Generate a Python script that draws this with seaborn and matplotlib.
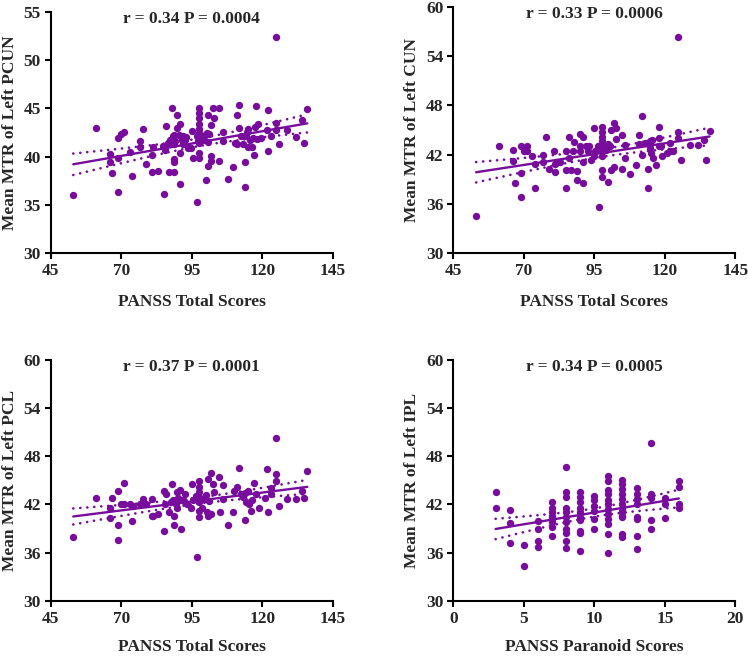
import numpy as np
import matplotlib
matplotlib.use("Agg")
import matplotlib.pyplot as plt
import seaborn as sns

sns.set_style("ticks")
plt.rcParams['font.family'] = ['Liberation Serif', 'DejaVu Serif']
plt.rcParams['font.weight'] = 'bold'

PURPLE = '#780c9c'

# panel A: PANSS total vs left PCUN
pcun_x = [53.0, 61.0, 66.0, 66.0, 66.9, 68.9, 68.9, 68.9, 69.9, 71.0, 73.1, 74.0, 76.7, 76.7, 77.9,
          78.8, 80.8, 80.8, 81.2, 82.9, 85.0, 85.5, 85.5, 85.9, 87.9, 87.1, 88.7, 88.7, 88.7, 88.7,
          88.7, 89.9, 89.9, 90.9, 90.9, 90.9, 91.5, 91.8, 92.6, 94.6, 95.0, 95.6, 96.8, 97.7, 97.7,
          97.7, 97.7, 97.7, 97.7, 97.7, 97.7, 97.7, 97.7, 98.5, 99.4, 100.1, 100.3, 100.9, 100.9, 101.7,
          101.7, 101.7, 102.7, 102.9, 104.8, 104.8, 106.0, 106.0, 108.0, 109.8, 110.4, 111.0, 111.2, 111.9, 111.9,
          112.4, 113.3, 113.9, 113.9, 115.1, 115.1, 116.3, 117.1, 117.5, 117.8, 118.1, 118.6, 119.5, 121.6, 122.0,
          122.2, 123.0, 124.9, 124.9, 124.9, 125.9, 128.9, 132.0, 134.0, 134.8, 136.0,
          87.3, 88.2, 89.2, 90.6, 91.9, 93.0, 93.6, 86.7, 84.9, 96.8, 97.4, 99.8, 100.6, 101.3,
          114.3, 115.5, 116.7, 114.6]
pcun_y = [36.0, 43.0, 40.3, 39.4, 38.3, 36.3, 39.9, 41.9, 42.3, 42.5, 40.5, 38.0, 41.6, 41.0, 42.9,
          39.2, 38.4, 40.2, 41.0, 38.5, 36.1, 41.1, 40.7, 43.2, 45.0, 38.4, 38.4, 39.8, 39.4, 41.3,
          42.2, 44.3, 43.0, 43.4, 40.4, 37.2, 41.7, 42.1, 41.7, 40.9, 42.7, 39.9, 35.3, 45.0, 44.5,
          44.0, 43.4, 42.9, 42.4, 41.9, 41.4, 40.4, 39.9, 42.1, 41.7, 37.6, 42.4, 44.3, 39.0, 40.1,
          39.5, 43.3, 45.0, 44.0, 45.0, 39.5, 42.5, 41.6, 37.7, 38.9, 41.4, 44.3, 41.3, 45.3, 43.0,
          42.1, 41.3, 39.4, 36.9, 42.9, 41.0, 41.0, 40.2, 43.1, 45.2, 41.8, 43.4, 41.9, 42.8, 40.6,
          44.8, 42.1, 43.5, 42.8, 52.4, 41.3, 42.8, 42.0, 43.8, 41.4, 44.9,
          41.7, 42.1, 41.6, 42.2, 41.3, 42.0, 40.9, 41.4, 41.1, 42.1, 41.6, 42.2, 41.5, 42.3,
          42.1, 41.7, 41.9, 42.6]

# panel B: PANSS total vs left CUN
cun_x = [53.1, 61.1, 66.0, 66.0, 67.0, 69.0, 69.0, 69.0, 70.0, 71.0, 71.0, 73.0, 73.9, 73.9, 76.9,
         76.9, 77.9, 78.9, 80.7, 80.9, 80.9, 83.0, 84.9, 84.9, 84.9, 86.0, 86.0, 86.9, 87.9, 88.9,
         88.9, 89.9, 89.9, 90.9, 90.9, 90.9, 91.9, 92.8, 93.9, 94.8, 95.1, 96.8, 97.9, 97.9, 97.9,
         97.9, 97.9, 97.9, 97.9, 97.9, 97.9, 99.0, 99.9, 99.9, 101.0, 101.0, 101.9, 101.9, 102.8, 102.8,
         104.9, 104.9, 106.0, 106.0, 107.8, 109.8, 110.8, 111.0, 111.9, 111.9, 112.9, 113.9, 113.9, 114.9, 114.9,
         115.8, 116.9, 117.8, 117.8, 118.1, 118.9, 120.8, 122.0, 122.0, 122.8, 124.8, 124.8, 124.8, 125.8, 128.8,
         131.9, 133.8, 134.7, 135.9,
         87.5, 89.8, 93.3, 95.0, 99.3, 100.5, 96.2, 115.1, 118.7, 115.3]
cun_y = [34.5, 43.1, 42.6, 41.2, 38.5, 36.8, 39.8, 43.1, 42.5, 43.1, 42.4, 41.8, 40.9, 37.9, 42.0,
         41.1, 44.1, 40.3, 42.4, 40.9, 39.9, 41.1, 37.9, 40.1, 42.4, 44.1, 41.6, 40.1, 43.5, 38.9,
         40.0, 44.5, 42.4, 44.2, 41.1, 38.5, 43.0, 42.4, 41.3, 45.2, 42.4, 35.6, 45.4, 44.8, 44.2,
         43.6, 43.0, 42.4, 41.8, 40.1, 39.3, 42.6, 38.7, 43.3, 40.1, 45.0, 45.9, 40.5, 45.2, 43.9,
         44.4, 40.3, 43.2, 41.6, 39.7, 40.7, 43.3, 44.4, 46.7, 42.0, 43.4, 37.9, 40.2, 43.6, 42.8,
         41.6, 40.7, 43.0, 45.4, 44.0, 41.8, 42.2, 43.4, 42.4, 42.4, 44.8, 56.3, 44.0, 41.4, 43.2,
         43.2, 43.8, 41.4, 44.9,
         42.4, 43.0, 43.0, 41.8, 43.0, 43.0, 43.0, 42.2, 43.0, 43.8]

# panel C: PANSS total vs left PCL
pcl_x = [53.0, 61.0, 66.0, 66.0, 66.9, 68.9, 68.9, 68.9, 69.8, 71.0, 71.0, 73.1, 74.0, 74.1, 76.7,
         77.9, 78.8, 80.8, 80.8, 81.4, 82.9, 85.0, 85.0, 85.5, 85.9, 87.1, 87.9, 88.5, 88.7, 88.7,
         89.7, 89.9, 90.9, 91.1, 91.8, 92.6, 94.6, 95.0, 95.6, 96.8, 97.7, 97.7, 97.7, 97.7, 97.7,
         97.7, 97.7, 98.5, 99.4, 100.3, 100.9, 100.9, 101.7, 101.9, 102.7, 102.9, 104.8, 105.0, 106.0, 106.0,
         108.0, 109.8, 110.1, 111.0, 111.9, 112.4, 113.3, 113.9, 114.3, 115.1, 115.9, 116.3, 117.1, 117.8, 119.0,
         121.0, 121.6, 122.0, 123.0, 123.0, 124.9, 124.9, 124.9, 125.9, 128.9, 132.0, 134.0, 134.8, 136.0,
         87.6, 89.3, 90.2, 92.1, 93.4, 96.5, 99.9, 101.2, 113.8, 115.4]
pcl_y = [37.9, 42.8, 41.5, 40.3, 42.8, 43.7, 39.5, 37.6, 42.1, 44.7, 42.1, 42.1, 39.9, 41.8, 42.1,
         42.7, 42.1, 42.7, 40.6, 40.6, 40.8, 38.7, 43.7, 42.1, 43.3, 41.0, 44.6, 42.5, 39.4, 40.6,
         41.6, 43.5, 43.8, 39.0, 42.5, 43.3, 41.6, 44.6, 42.5, 35.4, 44.9, 44.2, 43.5, 42.9, 42.3,
         41.2, 40.4, 41.6, 42.7, 41.0, 45.1, 40.6, 40.8, 45.9, 44.5, 43.5, 45.4, 41.0, 44.4, 42.7,
         39.5, 41.0, 43.7, 44.2, 46.5, 43.3, 42.9, 40.0, 42.3, 43.7, 41.2, 42.5, 44.7, 43.3, 41.6,
         42.8, 46.4, 41.0, 44.1, 43.3, 45.8, 44.9, 50.2, 41.8, 42.7, 42.7, 43.7, 42.8, 46.1,
         42.3, 42.0, 42.8, 42.4, 42.0, 43.1, 43.2, 42.4, 43.4, 42.0]

# panel D: PANSS paranoid vs left IPL
ipl_x = [3, 3, 4, 4, 4, 5, 5, 6, 6, 6, 6,
         7, 7, 7, 7, 7, 7, 7, 7,
         8, 8, 8, 8, 8, 8, 8, 8, 8, 8, 8,
         9, 9, 9, 9, 9, 9, 9, 9, 9, 9,
         10, 10, 10, 10, 10, 10,
         11, 11, 11, 11, 11, 11, 11, 11, 11, 11, 11, 11,
         12, 12, 12, 12, 12, 12, 12, 12, 12, 12, 12, 12,
         13, 13, 13, 13, 13, 13, 13, 13,
         14, 14, 14, 14, 14, 15, 15, 15, 16, 16, 16, 16]
ipl_y = [43.6, 41.6, 41.3, 39.7, 37.2, 37.0, 34.3, 39.9, 39.0, 37.5, 36.7,
         42.3, 41.6, 41.0, 40.6, 40.2, 39.8, 39.2, 38.1,
         46.7, 43.6, 42.9, 41.6, 41.0, 40.4, 39.8, 39.0, 38.5, 37.4, 36.6,
         43.6, 42.9, 42.3, 41.6, 41.0, 40.4, 40.0, 38.7, 38.5, 36.2,
         43.0, 42.5, 41.8, 41.2, 40.2, 38.9,
         45.5, 44.9, 43.8, 43.3, 42.5, 42.1, 41.4, 40.8, 40.2, 39.6, 38.3, 35.9,
         45.0, 44.5, 43.9, 43.3, 42.7, 42.1, 41.4, 41.0, 40.6, 40.4, 38.3, 38.0,
         44.0, 43.3, 42.7, 42.1, 40.4, 40.2, 38.1, 36.4,
         49.6, 43.3, 42.8, 40.0, 39.0, 42.8, 42.1, 40.3, 44.9, 44.2, 42.1, 41.6]

stats_text = ['r = 0.34 P = 0.0004', 'r = 0.33 P = 0.0006', 'r = 0.37 P = 0.0001', 'r = 0.34 P = 0.0005']
y_labels = ['Mean MTR of Left PCUN', 'Mean MTR of Left CUN', 'Mean MTR of Left PCL', 'Mean MTR of Left IPL']
x_labels = ['PANSS Total Scores', 'PANSS Total Scores', 'PANSS Total Scores', 'PANSS Paranoid Scores']
x_ticks = [[45, 70, 95, 120, 145]] * 3 + [[0, 5, 10, 15, 20]]
y_ticks = [[30, 35, 40, 45, 50, 55], [30, 36, 42, 48, 54, 60], [30, 36, 42, 48, 54, 60], [30, 36, 42, 48, 54, 60]]

panels = [(pcun_x, pcun_y), (cun_x, cun_y), (pcl_x, pcl_y), (ipl_x, ipl_y)]
positions = [[0.0678, 0.6139, 0.377, 0.3683], [0.606, 0.6139, 0.377, 0.3759],
             [0.0678, 0.0840, 0.377, 0.3677], [0.606, 0.0840, 0.377, 0.3677]]
label_pads = [11, 11, 9, 9]

fig = plt.figure(figsize=(7.48, 6.56), dpi=100)
for i, (xs, ys) in enumerate(panels):
    ax = fig.add_axes(positions[i])
    x = np.array(xs, dtype=float)
    y = np.array(ys, dtype=float)
    sns.regplot(x=x, y=y, ax=ax, ci=None, color=PURPLE,
                scatter_kws=dict(s=28, alpha=1, linewidths=0),
                line_kws=dict(lw=1.7))
    # 95% confidence band, drawn as dotted lines
    b, a = np.polyfit(x, y, 1)
    n = len(x)
    resid = y - (a + b * x)
    s = np.sqrt(np.sum(resid ** 2) / (n - 2))
    xx = np.linspace(x.min(), x.max(), 100)
    se = s * np.sqrt(1 / n + (xx - x.mean()) ** 2 / np.sum((x - x.mean()) ** 2))
    fit = a + b * xx
    for sign in (-1, 1):
        ax.plot(xx, fit + sign * 1.98 * se, color=PURPLE, lw=1.9, linestyle=(0, (0.05, 2.6)),
                dash_capstyle='round')

    ax.set_xlim(x_ticks[i][0], x_ticks[i][-1])
    ax.set_ylim(y_ticks[i][0], y_ticks[i][-1])
    ax.set_xticks(x_ticks[i])
    ax.set_yticks(y_ticks[i])
    ax.set_xlabel(x_labels[i], fontsize=12.5, fontweight='bold', labelpad=label_pads[i])
    ax.set_ylabel(y_labels[i], fontsize=12.5, fontweight='bold', labelpad=4)
    ax.text(0.5, 0.97, stats_text[i], transform=ax.transAxes, ha='center', va='center',
            fontsize=12.5, fontweight='bold')
    sns.despine(ax=ax)
    for sp in ('left', 'bottom'):
        ax.spines[sp].set_linewidth(1.5)
        ax.spines[sp].set_color('black')
    ax.tick_params(width=1.5, length=4, labelsize=12.5, color='black', pad=3)
    for lab in ax.get_xticklabels() + ax.get_yticklabels():
        lab.set_fontweight('bold')
    ax.set_facecolor('white')

fig.savefig('out.png', dpi=100, facecolor='white')
